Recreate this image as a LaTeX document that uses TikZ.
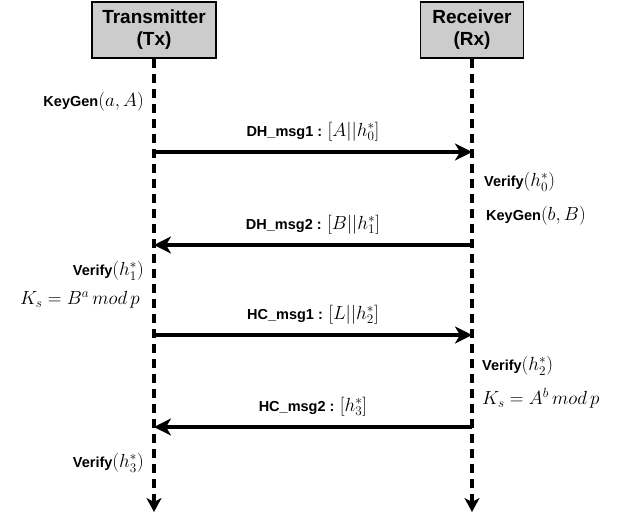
\documentclass[tikz,border=0pt]{standalone}
\usepackage[no-math]{fontspec}
\usepackage{graphicx}
\setmainfont{Liberation Sans}
\usetikzlibrary{arrows.meta}
\newcommand{\mth}[1]{\scalebox{1.1}{\fontsize{17.28}{20}\selectfont$#1$}}
\begin{document}
\begin{tikzpicture}[x=1pt,y=-1pt,
  actor/.style={draw=black,line width=1.8pt,fill=black!20,minimum width=124pt,minimum height=56pt,align=center,inner sep=1pt,font=\fontsize{19}{22}\selectfont\bfseries},
  life/.style={line width=3.3pt,dash pattern=on 9pt off 6pt,-{Stealth[length=14pt,width=15pt,inset=4pt]}},
  msg/.style={line width=4pt,-{Stealth[length=17pt,width=17pt,inset=5pt]}},
  lbl/.style={font=\fontsize{14.5}{16}\selectfont\bfseries,inner sep=0pt},
  mlbl/.style={inner sep=0pt}]
\useasboundingbox (0,0) rectangle (626,520);
\node[actor] (tx) at (154,30) {Transmitter\\(Tx)};
\node[actor,minimum width=103pt] (rx) at (472,30) {Receiver\\(Rx)};
\coordinate (txe) at (154,512);
\coordinate (rxe) at (472,512);
\draw[life] (tx.south) -- (txe);
\draw[life] (rx.south) -- (rxe);
% messages
\coordinate (t1) at (154,152); \coordinate (r1) at (472,152);
\coordinate (t2) at (154,245); \coordinate (r2) at (472,245);
\coordinate (t3) at (154,335); \coordinate (r3) at (472,335);
\coordinate (t4) at (154,427); \coordinate (r4) at (472,427);
\draw[msg] (t1) -- (r1) node[midway,above=9pt,lbl] (m1) {DH\_msg1 : \mth{[A||h_0^*]}};
\draw[msg] (r2) -- (t2) node[midway,above=9pt,lbl] (m2) {DH\_msg2 : \mth{[B||h_1^*]}};
\draw[msg] (t3) -- (r3) node[midway,above=9pt,lbl] (m3) {HC\_msg1 : \mth{[L||h_2^*]}};
\draw[msg] (r4) -- (t4) node[midway,above=9pt,lbl] (m4) {HC\_msg2 : \mth{[h_3^*]}};
% left labels
\node[lbl,anchor=east] (kg1) at (144,102) {KeyGen\mth{(a,A)}};
\node[lbl,anchor=east] (v1) at (144,271) {Verify\mth{(h_1^*)}};
\node[mlbl,anchor=east] (ks1) at (140,300) {\mth{K_s = B^a\,mod\,p}};
\node[lbl,anchor=east] (v3) at (144,463) {Verify\mth{(h_3^*)}};
% right labels
\node[lbl,anchor=west] (v0) at (484,182) {Verify\mth{(h_0^*)}};
\node[lbl,anchor=west] (kg2) at (486,216) {KeyGen\mth{(b,B)}};
\node[lbl,anchor=west] (v2) at (482,366) {Verify\mth{(h_2^*)}};
\node[mlbl,anchor=west] (ks2) at (482,398) {\mth{K_s = A^b\,mod\,p}};
\end{tikzpicture}
\end{document}
